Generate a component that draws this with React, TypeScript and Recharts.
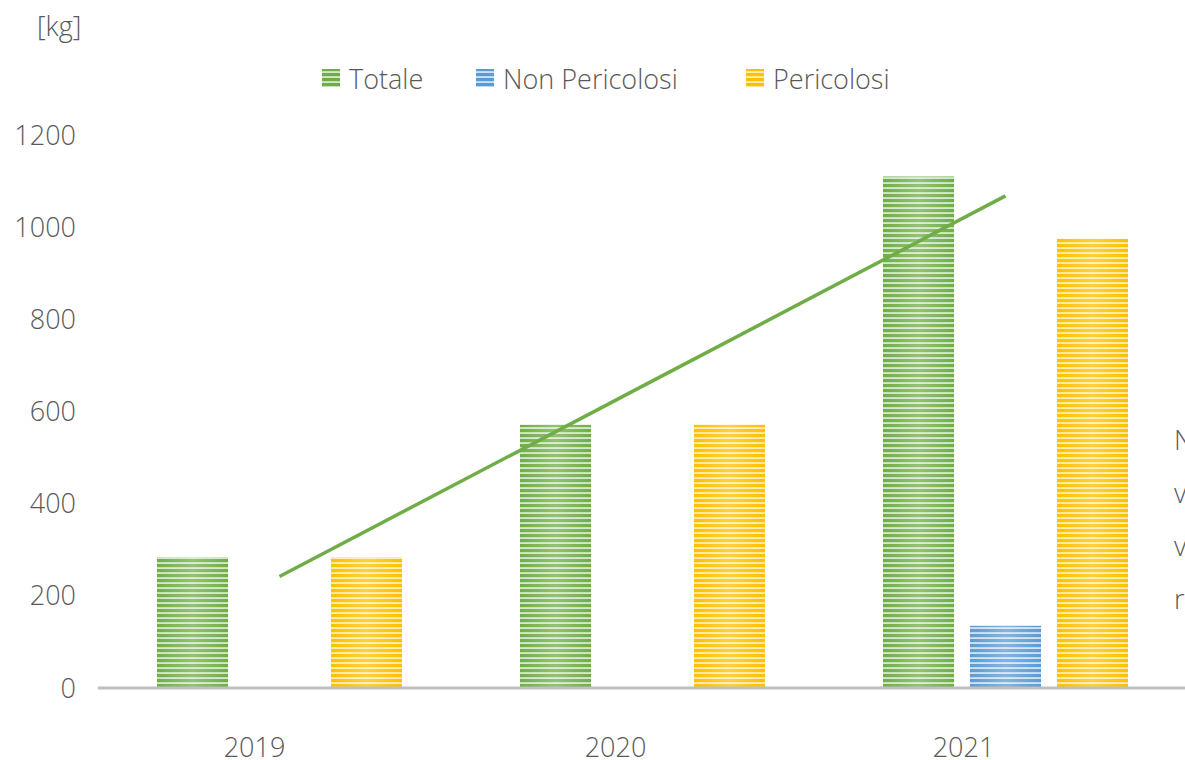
import React from "react";
import { ComposedChart, Bar, Line, XAxis, YAxis } from "recharts";

const years = ["2019", "2020", "2021"];
const totale = [284, 571, 1110];
const nonPericolosi = [0, 0, 135];
const pericolosi = [284, 571, 975];
const trend = [242, 655, 1068];
const yTicks = [0, 200, 400, 600, 800, 1000, 1200];

const seriesNames = ["Totale", "Non Pericolosi", "Pericolosi"];
const seriesColors = ["#70AD47", "#5B9BD5", "#FFC000"];
const seriesLight = ["#C5E0B4", "#BDD7EE", "#FFE699"];
const patternIds = ["pTot", "pNon", "pPer"];

const data = years.map((y, i) => ({
  year: y,
  totale: totale[i],
  nonPericolosi: nonPericolosi[i],
  pericolosi: pericolosi[i],
  trend: trend[i],
}));

const FONT = "'Open Sans', 'DejaVu Sans', sans-serif";
const TXT = "#595959";
const FS = 27;
const xTickShift = [-25, -27, -42];

const StripedBar = (props: any) => {
  const { x, y, width, height, patternId } = props;
  if (!height || height <= 0) return null;
  return (
    <g>
      <rect x={x} y={y} width={width} height={height} fill={`url(#${patternId})`} />
      <rect x={x} y={y} width={width} height={height} fill="url(#shine)" />
    </g>
  );
};

const XTick = (props: any) => {
  const { x, y, payload, index } = props;
  return (
    <text
      x={x + (xTickShift[index] ?? 0)}
      y={y + 48}
      textAnchor="middle"
      dy="0.71em"
      fill={TXT}
      fontSize={FS}
      fontWeight={300}
      fontFamily={FONT}
    >
      {payload.value}
    </text>
  );
};

const legendX = [322, 476, 746];

export default function App() {
  return (
    <div
      style={{
        position: "fixed",
        left: 0,
        top: 0,
        width: 1185,
        height: 760,
        overflow: "hidden",
        background: "#fff",
        fontFamily: FONT,
      }}
    >
      <svg width={0} height={0} style={{ position: "absolute" }}>
        <defs>
          {patternIds.map((id, i) => (
            <pattern key={id} id={id} patternUnits="userSpaceOnUse" width={10} height={5}>
              <rect x={0} y={0} width={10} height={5} fill={seriesColors[i]} />
              <rect x={0} y={2} width={10} height={1} fill={seriesLight[i]} />
              <rect x={0} y={3} width={10} height={1} fill="#ffffff" opacity={0.7} />
            </pattern>
          ))}
          <linearGradient id="shine" x1="0" y1="0" x2="1" y2="0">
            <stop offset="0" stopColor="#fff" stopOpacity={0} />
            <stop offset="0.5" stopColor="#fff" stopOpacity={0.25} />
            <stop offset="1" stopColor="#fff" stopOpacity={0} />
          </linearGradient>
        </defs>
      </svg>
      <div
        style={{
          position: "absolute",
          left: 37,
          top: 7,
          fontSize: FS,
          fontWeight: 300,
          color: TXT,
        }}
      >
        [kg]
      </div>
      {seriesNames.map((n, i) => (
        <div
          key={n}
          style={{
            position: "absolute",
            left: legendX[i],
            top: 60,
            height: 36,
            display: "flex",
            alignItems: "center",
            fontSize: FS,
            fontWeight: 300,
            color: TXT,
            whiteSpace: "nowrap",
          }}
        >
          <svg width={18} height={18} style={{ marginRight: 9 }}>
            <rect x={0} y={0} width={18} height={18} fill={`url(#${patternIds[i]})`} />
          </svg>
          {n}
        </div>
      ))}
      {["N", "v", "v", "r"].map((t, i) => (
        <div
          key={i}
          style={{
            position: "absolute",
            left: 1174,
            top: 421 + i * 53,
            fontSize: FS,
            fontWeight: 300,
            color: TXT,
          }}
        >
          {t}
        </div>
      ))}
      <div style={{ position: "absolute", left: 0, top: 0 }}>
        <ComposedChart
          width={1190}
          height={760}
          data={data}
          margin={{ top: 135, right: 3, bottom: 0, left: 0 }}
          barSize={71}
          barGap={16}
        >
          <XAxis
            dataKey="year"
            height={72}
            tickSize={0}
            tickLine={false}
            axisLine={{ stroke: "#BFBFBF", strokeWidth: 3 }}
            tick={<XTick />}
          />
          <YAxis
            width={98}
            domain={[0, 1200]}
            ticks={yTicks}
            axisLine={false}
            tickLine={false}
            tickSize={0}
            tickMargin={22}
            tick={{ fill: TXT, fontSize: FS, fontWeight: 300, fontFamily: FONT }}
          />
          <Bar
            dataKey="totale"
            isAnimationActive={false}
            shape={(p: any) => <StripedBar {...p} patternId="pTot" />}
          />
          <Bar
            dataKey="nonPericolosi"
            isAnimationActive={false}
            shape={(p: any) => <StripedBar {...p} patternId="pNon" />}
          />
          <Bar
            dataKey="pericolosi"
            isAnimationActive={false}
            shape={(p: any) => <StripedBar {...p} patternId="pPer" />}
          />
          <Line
            dataKey="trend"
            stroke="#70AD47"
            strokeWidth={3.5}
            dot={false}
            activeDot={false}
            isAnimationActive={false}
          />
        </ComposedChart>
      </div>
    </div>
  );
}
